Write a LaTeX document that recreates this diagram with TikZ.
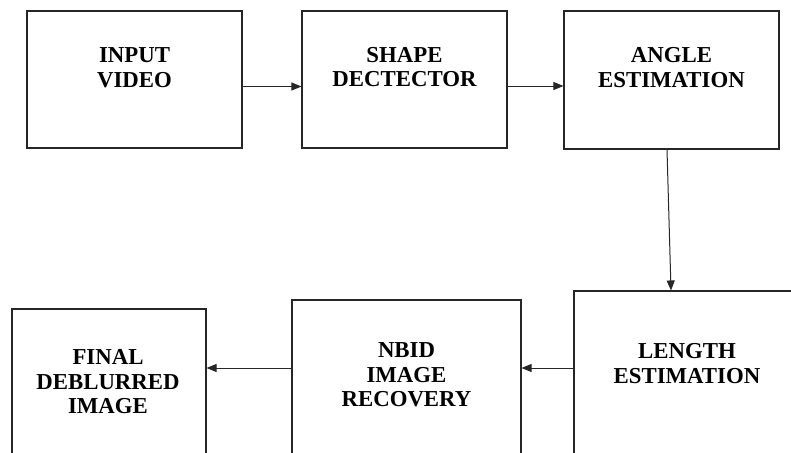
\documentclass[tikz,border=0pt]{standalone}
\usepackage{fontspec}
\setmainfont{Liberation Serif}
\usetikzlibrary{arrows.meta}
\begin{document}
\begin{tikzpicture}[x=1pt,y=-1pt,
  box/.style={draw=black!85, line width=1.1pt, inner sep=0pt, rectangle},
  lbl/.style={font=\bfseries\fontsize{22.8}{24.5}\selectfont, align=center, inner sep=0pt},
  arr/.style={draw=black!85, line width=1pt, -{Triangle[length=10pt,width=8pt]}}]
\useasboundingbox (0,0) rectangle (791,452);
\clip (0,0) rectangle (791,452);
% boxes
\node[box, minimum width=215pt, minimum height=137pt] (b1) at (134.5,79.5) {};
\node[box, minimum width=205pt, minimum height=137pt] (b2) at (404.5,79.5) {};
\node[box, minimum width=215pt, minimum height=138pt] (b3) at (671.5,80) {};
\node[box, minimum width=226pt, minimum height=190pt] (b4) at (687,386) {};
\node[box, minimum width=229pt, minimum height=180pt] (b5) at (406.5,390) {};
\node[box, minimum width=194pt, minimum height=170pt] (b6) at (109,394) {};
% labels
\node[lbl] (t1) at (134.5,67.5) {INPUT\\VIDEO};
\node[lbl] (t2) at (404.5,67) {SHAPE\\DECTECTOR};
\node[lbl] (t3) at (671.5,67.5) {ANGLE\\ESTIMATION};
\node[lbl] (t4) at (687,363.5) {LENGTH\\ESTIMATION};
\node[lbl] (t5) at (406.5,375) {NBID\\IMAGE\\RECOVERY};
\node[lbl] (t6) at (108,382) {FINAL\\DEBLURRED\\IMAGE};
% connectors
\draw[arr] (b1.east |- 0,86.5) -- (b2.west |- 0,86.5);
\draw[arr] (b2.east |- 0,86) -- (b3.west |- 0,86);
\draw[arr] (b3.south -| 667,0) -- (b4.north -| 671,0);
\draw[arr] (b4.west |- 0,368) -- (b5.east |- 0,368);
\draw[arr] (b5.west |- 0,368) -- (b6.east |- 0,368);
\end{tikzpicture}
\end{document}
